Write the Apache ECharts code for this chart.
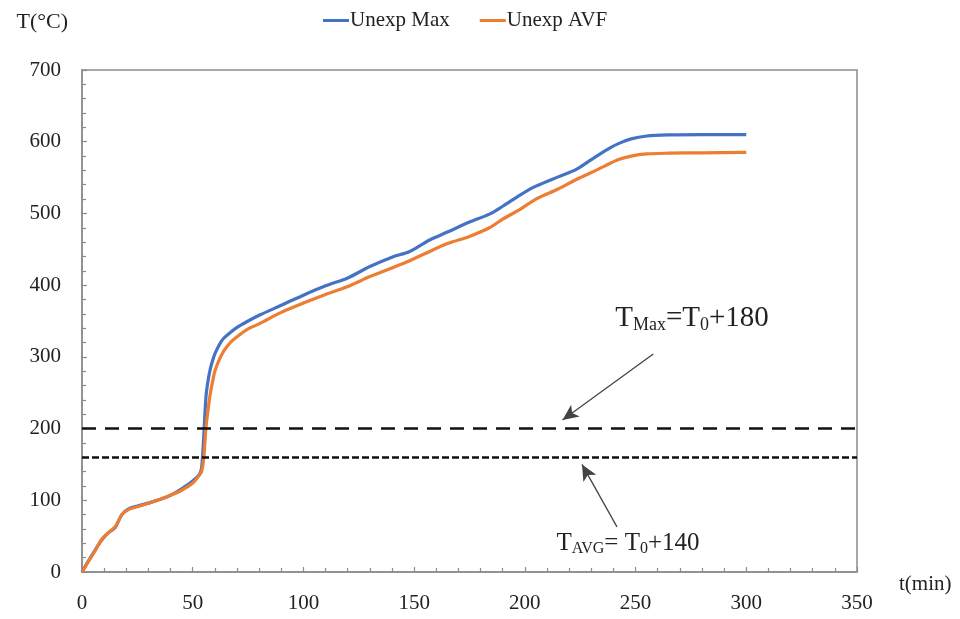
<!DOCTYPE html>
<html>
<head>
<meta charset="utf-8">
<script src="https://cdn.jsdelivr.net/npm/echarts@6/dist/echarts.min.js"></script>
<style>
  html, body { margin: 0; padding: 0; background: #fff; }
  #chart { width: 960px; height: 619px; }
</style>
</head>
<body>
<div id="chart"></div>
<script>
// Time (min) of each sample
const timeMin = [0, 3, 6, 9, 12, 15, 18, 21, 25, 30, 35, 40, 45, 50, 53, 54, 55, 56, 57, 58, 59, 60, 62, 64, 67, 70, 75, 80, 90, 100, 110, 120, 130, 140, 148, 157, 165, 175, 184, 190, 198, 205, 215, 223, 230, 236, 242, 248, 255, 265, 280, 300];
// Unexposed-side maximum temperature (°C)
const unexpMax = [0, 16, 31, 45, 55, 62, 80, 88, 92, 96, 101, 107, 116, 127, 136, 145, 190, 245, 268, 284, 295, 304, 317, 326, 334, 341, 350, 358, 372, 386, 399, 410, 426, 439, 447, 463, 474, 488, 499, 510, 526, 538, 551, 561, 575, 587, 597, 604, 608, 609.5, 610, 610];
// Unexposed-side average temperature (°C)
const unexpAvf = [0, 15, 30, 46, 55, 63, 80, 87, 91, 96, 101, 107, 114, 124, 135, 140, 160, 202, 228, 250, 266, 280, 296, 308, 320, 328, 339, 346, 362, 375, 387, 398, 412, 424, 434, 447, 458, 468, 480, 492, 506, 520, 534, 547, 557, 566, 575, 580, 583, 584, 584.5, 585];
// Criteria levels: T0 + 180 and T0 + 140 with T0 = 20 °C
const limitMax = 200;
const limitAvg = 160;
// Annotation arrows [tail, head] in (min, °C)
const arrowMax = [[258, 304], [217, 212]];
const arrowAvg = [[241.6, 63], [225.8, 150]];
// Annotation label anchors in (min, °C)
const labelMaxAt = [275.5, 354];
const labelAvgAt = [246.6, 40];

const xTicks = { min: 0, max: 350, interval: 50 };
const yTicks = { min: 0, max: 700, interval: 100 };

const FONT = '"Liberation Serif", "Times New Roman", serif';
const TXT = '#222';
const AXIS = '#8c8c8c';

const chart = echarts.init(document.getElementById('chart'), null, { renderer: 'canvas' });

const pairs = (ys) => timeMin.map((t, i) => [t, ys[i]]);

const arrowStyle = { color: '#444', width: 1.3, type: 'solid' };

chart.setOption({
  animation: false,
  textStyle: { fontFamily: FONT },
  grid: {
    left: 82, right: 103, top: 70, bottom: 47,
    show: true, borderColor: AXIS, borderWidth: 1.5, backgroundColor: 'transparent'
  },
  legend: {
    left: 318, top: 5,
    icon: 'rect', itemWidth: 26, itemHeight: 3, itemGap: 30,
    textStyle: { fontFamily: FONT, fontSize: 21, color: TXT, padding: [0, 0, 0, -4] },
    data: ['Unexp Max', 'Unexp AVF']
  },
  xAxis: {
    type: 'value', min: xTicks.min, max: xTicks.max, interval: xTicks.interval,
    name: 't(min)', nameLocation: 'end', nameGap: 12,
    nameTextStyle: { fontFamily: FONT, fontSize: 21, color: TXT, verticalAlign: 'top', padding: [2, 0, 0, 30] },
    axisLine: { show: true, lineStyle: { color: AXIS, width: 1.5 } },
    axisTick: { show: true, inside: true, length: 5, lineStyle: { color: AXIS, width: 1.2 } },
    minorTick: { show: true, splitNumber: 5, length: 4, lineStyle: { color: AXIS, width: 1.2 } },
    splitLine: { show: false },
    axisLabel: { fontFamily: FONT, fontSize: 21, color: TXT, margin: 21 }
  },
  yAxis: {
    type: 'value', min: yTicks.min, max: yTicks.max, interval: yTicks.interval,
    name: 'T(°C)', nameLocation: 'end', nameGap: 37,
    nameTextStyle: { fontFamily: FONT, fontSize: 22, color: TXT, align: 'right', padding: [0, 14, 0, 0] },
    axisLine: { show: true, lineStyle: { color: AXIS, width: 1.5 } },
    axisTick: { show: true, inside: true, length: 5, lineStyle: { color: AXIS, width: 1.2 } },
    minorTick: { show: true, splitNumber: 5, length: 4, lineStyle: { color: AXIS, width: 1.2 } },
    splitLine: { show: false },
    axisLabel: { fontFamily: FONT, fontSize: 21, color: TXT, margin: 21 }
  },
  series: [
    {
      name: 'Unexp Max', type: 'line', data: pairs(unexpMax),
      smooth: 0.3, showSymbol: false, symbol: 'none',
      color: '#4472C4', lineStyle: { width: 3.2, color: '#4472C4' }, z: 3
    },
    {
      name: 'Unexp AVF', type: 'line', data: pairs(unexpAvf),
      smooth: 0.3, showSymbol: false, symbol: 'none',
      color: '#ED7D31', lineStyle: { width: 3.2, color: '#ED7D31' }, z: 4,
      markLine: {
        silent: true, animation: false, symbol: ['none', 'none'], label: { show: false },
        data: [
          { yAxis: limitMax, lineStyle: { color: '#111', width: 2.5, type: [14, 9] } },
          { yAxis: limitAvg, lineStyle: { color: '#111', width: 2.5, type: [7, 3] } },
          [
            { coord: arrowMax[0], symbol: 'none', lineStyle: arrowStyle },
            { coord: arrowMax[1], symbol: 'arrow', symbolSize: [11, 16] }
          ],
          [
            { coord: arrowAvg[0], symbol: 'none', lineStyle: arrowStyle },
            { coord: arrowAvg[1], symbol: 'arrow', symbolSize: [11, 16] }
          ]
        ]
      },
      markPoint: {
        silent: true, animation: false, symbol: 'circle', symbolSize: 0,
        data: [
          {
            coord: labelMaxAt,
            label: {
              show: true, position: 'inside',
              formatter: '{a|T}{s|Max}{a|=T}{s|0}{a|+180}',
              rich: {
                a: { fontFamily: FONT, fontSize: 29, color: TXT, verticalAlign: 'bottom' },
                s: { fontFamily: FONT, fontSize: 18, color: TXT, verticalAlign: 'bottom', padding: [0, 0, -2, 0] }
              }
            }
          },
          {
            coord: labelAvgAt,
            label: {
              show: true, position: 'inside',
              formatter: '{a|T}{s|AVG}{a|= T}{s|0}{a|+140}',
              rich: {
                a: { fontFamily: FONT, fontSize: 25, color: TXT, verticalAlign: 'bottom' },
                s: { fontFamily: FONT, fontSize: 16, color: TXT, verticalAlign: 'bottom', padding: [0, 0, -1, 0] }
              }
            }
          }
        ]
      }
    }
  ]
});
</script>
</body>
</html>
